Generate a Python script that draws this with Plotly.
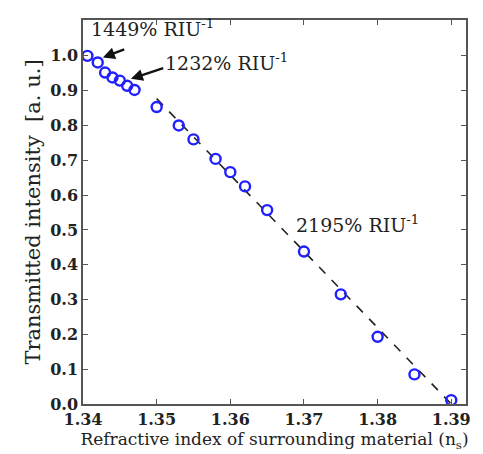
import plotly.graph_objects as go

# Data
n_s = [1.3406, 1.342, 1.343, 1.344, 1.345, 1.346, 1.347, 1.350, 1.353, 1.355,
       1.358, 1.360, 1.362, 1.365, 1.370, 1.375, 1.380, 1.385, 1.390]
intensity = [1.000, 0.981, 0.952, 0.938, 0.929, 0.914, 0.902, 0.853, 0.800, 0.760,
             0.704, 0.666, 0.625, 0.557, 0.438, 0.315, 0.193, 0.085, 0.011]
fit_x = [1.350, 1.390]
fit_y = [0.877, 0.0]

x_ticks = [1.34, 1.35, 1.36, 1.37, 1.38, 1.39]
y_ticks = [0.0, 0.1, 0.2, 0.3, 0.4, 0.5, 0.6, 0.7, 0.8, 0.9, 1.0]

serif = "DejaVu Serif"

fig = go.Figure()
fig.add_trace(go.Scatter(x=fit_x, y=fit_y, mode="lines",
                         line=dict(color="#222222", width=1.6, dash="dash"),
                         showlegend=False, hoverinfo="skip"))
fig.add_trace(go.Scatter(x=n_s, y=intensity, mode="markers",
                         marker=dict(symbol="circle-open", size=10, color="#1f1fff",
                                     line=dict(width=2.4, color="#1f1fff")),
                         showlegend=False))

ann_font = dict(family=serif, size=19, color="#222222")
fig.add_annotation(x=1.3408, y=1.081, xref="x", yref="y", xanchor="left", yanchor="middle",
                   text="1449% RIU<sup>-1</sup>", showarrow=False, font=ann_font)
fig.add_annotation(x=1.3509, y=0.981, xref="x", yref="y", xanchor="left", yanchor="middle",
                   text="1232% RIU<sup>-1</sup>", showarrow=False, font=ann_font)
fig.add_annotation(x=1.3687, y=0.516, xref="x", yref="y", xanchor="left", yanchor="middle",
                   text="2195% RIU<sup>-1</sup>", showarrow=False, font=ann_font)
fig.add_annotation(x=1.3427, y=0.995, ax=1.3458, ay=1.020, xref="x", yref="y",
                   axref="x", ayref="y", text="", showarrow=True, arrowhead=2,
                   arrowsize=1, arrowwidth=2.4, arrowcolor="#111111")
fig.add_annotation(x=1.3465, y=0.934, ax=1.3511, ay=0.966, xref="x", yref="y",
                   axref="x", ayref="y", text="", showarrow=True, arrowhead=2,
                   arrowsize=1, arrowwidth=2.4, arrowcolor="#111111")

axis_common = dict(showgrid=False, zeroline=False, showline=True, linecolor="#555555",
                   linewidth=1.5, mirror="ticks", ticks="inside", ticklen=5,
                   tickcolor="#555555", tickwidth=1,
                   tickfont=dict(family=serif, size=16, color="#222222", weight="bold"))

fig.update_xaxes(range=[1.34, 1.392], tickvals=x_ticks,
                 ticktext=[f"{v:.2f}" for v in x_ticks],
                 title=dict(text="Refractive index of surrounding material (n<sub>s</sub>)",
                            font=dict(family=serif, size=17, color="#222222"), standoff=0),
                 **axis_common)
fig.update_yaxes(range=[0, 1.103], tickvals=y_ticks,
                 ticktext=[f"{v:.1f}" for v in y_ticks],
                 title=dict(text="Transmitted intensity  [a. u.]",
                            font=dict(family=serif, size=21, color="#222222"), standoff=4),
                 **axis_common)

fig.update_layout(width=483, height=454, margin=dict(l=75, r=25, t=10, b=58),
                  plot_bgcolor="white", paper_bgcolor="white",
                  font=dict(family=serif))

fig.write_html("out.html")
